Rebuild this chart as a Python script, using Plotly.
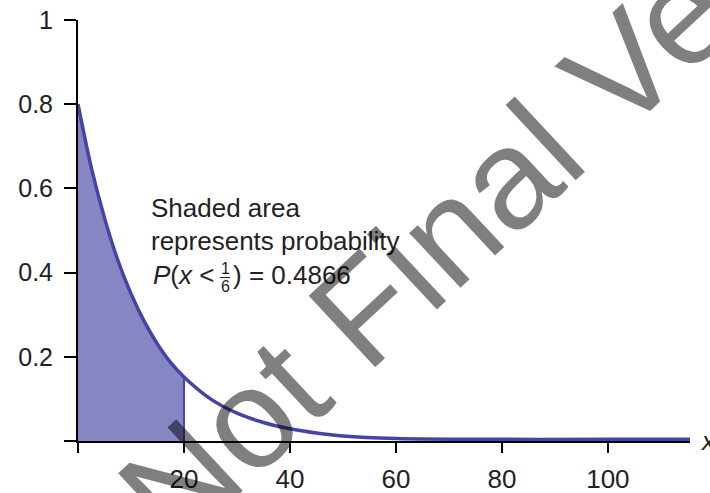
import plotly.graph_objects as go

# ---- data ----
x_vals = [0, 2.5, 5, 7.5, 10, 12.5, 15, 17.5, 20, 25, 30, 35, 40, 45, 50, 60, 80, 100, 115.5]
y_vals = [0.80, 0.65, 0.53, 0.43, 0.35, 0.284, 0.23, 0.186, 0.152, 0.10, 0.066, 0.044,
          0.029, 0.019, 0.012, 0.006, 0.004, 0.004, 0.004]
shade_end = 20
x_ticks = [0, 20, 40, 60, 80, 100]
x_tick_labels = ["", "20", "40", "60", "80", "100"]
y_ticks = [0, 0.2, 0.4, 0.6, 0.8, 1]
y_tick_labels = ["", "0.2", "0.4", "0.6", "0.8", "1"]

W, H = 710, 493
ML, MR, MT, MB = 78, 20, 20, 52
PW, PH = W - ML - MR, H - MT - MB

def px(xp):
    return (xp - ML) / PW

def py(yp):
    return (H - MB - yp) / PH

FILL = "rgb(134,134,194)"
LINE = "rgb(68,68,168)"
FONT = "Liberation Sans, Arial, sans-serif"

shade_x = [x for x in x_vals if x <= shade_end]
shade_y = [y for x, y in zip(x_vals, y_vals) if x <= shade_end]

fig = go.Figure()
fig.add_trace(go.Scatter(x=shade_x, y=shade_y, mode="lines", fill="tozeroy",
                         fillcolor=FILL, line=dict(width=0, shape="spline"),
                         hoverinfo="skip", showlegend=False))
fig.add_trace(go.Scatter(x=[shade_end, shade_end], y=[0, shade_y[-1]], mode="lines",
                         line=dict(color=LINE, width=2), showlegend=False))
fig.add_trace(go.Scatter(x=x_vals, y=y_vals, mode="lines",
                         line=dict(color=LINE, width=3.5, shape="spline"),
                         showlegend=False))

axis_common = dict(showline=True, linewidth=2, linecolor="black", showgrid=False,
                   zeroline=False, ticks="outside", tickwidth=2, tickcolor="black",
                   automargin=False)
fig.update_xaxes(range=[0, 115.5], tickvals=x_ticks, ticktext=x_tick_labels,
                 ticklen=10, ticklabelstandoff=4,
                 tickfont=dict(family=FONT, size=26, color="#222"), **axis_common)
fig.update_yaxes(range=[0, 1], tickvals=y_ticks, ticktext=y_tick_labels,
                 ticklen=12, ticklabelstandoff=6,
                 tickfont=dict(family=FONT, size=25, color="#222"), **axis_common)

tf = dict(family=FONT, size=26, color="#222")
ann = []
ann.append(dict(text="Shaded area", x=px(149), y=py(208), xanchor="left"))
ann.append(dict(text="represents probability", x=px(149), y=py(241), xanchor="left"))
ann.append(dict(text="<i>P</i>(<i>x</i> <", x=px(151), y=py(275), xanchor="left"))
ann.append(dict(text=") = 0.4866", x=px(231), y=py(275), xanchor="left"))
for a in ann:
    a.update(xref="paper", yref="paper", yanchor="middle", showarrow=False, font=tf)
ann.append(dict(text="1", x=px(225), y=py(268), xref="paper", yref="paper",
                xanchor="center", yanchor="middle", showarrow=False,
                font=dict(family=FONT, size=16, color="#222")))
ann.append(dict(text="6", x=px(225), y=py(286), xref="paper", yref="paper",
                xanchor="center", yanchor="middle", showarrow=False,
                font=dict(family=FONT, size=16, color="#222")))
ann.append(dict(text="<i>x</i>", x=px(698), y=py(441), xref="paper", yref="paper",
                xanchor="left", yanchor="middle", showarrow=False,
                font=dict(family=FONT, size=26, color="#222")))
# watermark
ann.append(dict(text="Not Final Version", x=px(537), y=py(148), xref="paper", yref="paper",
                xanchor="center", yanchor="middle", showarrow=False, textangle=-43,
                font=dict(family=FONT, size=142, color="rgba(0,0,0,0.5)")))

fig.update_layout(
    width=W, height=H, margin=dict(l=ML, r=MR, t=MT, b=MB, autoexpand=False),
    plot_bgcolor="white", paper_bgcolor="white",
    annotations=ann,
    shapes=[dict(type="line", xref="paper", yref="paper", x0=px(220), x1=px(230),
                 y0=py(277.5), y1=py(277.5), line=dict(color="#222", width=1))],
)

fig.write_html("out.html", config={"displayModeBar": False},
               post_script="document.body.style.margin='0';document.body.style.overflow='hidden';")
